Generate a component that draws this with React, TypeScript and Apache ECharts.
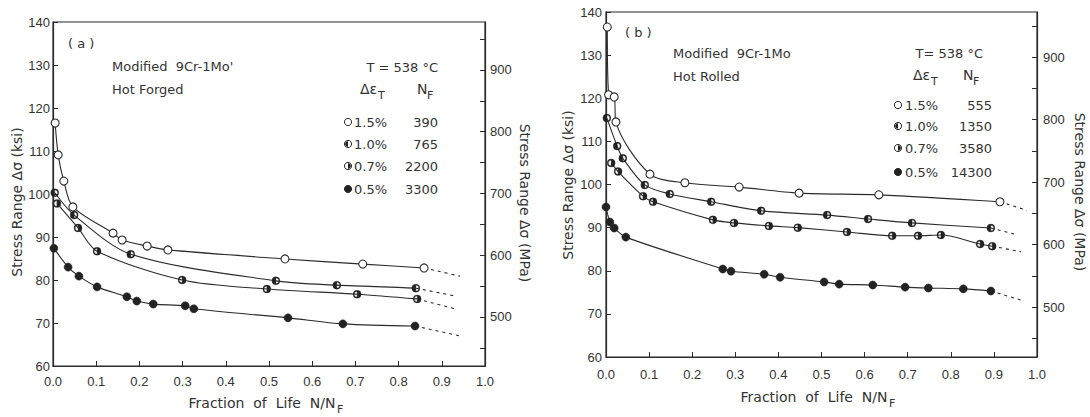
import { useEffect, useRef } from "react";
import * as echarts from "echarts";

// ---------- axes ----------
const X_MIN = 0;
const X_MAX = 1;
const X_STEP = 0.1;
const KSI_MIN = 60;
const KSI_MAX = 140;
const KSI_STEP = 10;
const MPA_TICKS = [450, 500, 550, 600, 650, 700, 750, 800, 850, 900, 950];
const MPA_LABELS = [500, 600, 700, 800, 900];
const MPA_RANGE_A = [420.6, 977.7];
const MPA_RANGE_B = [420, 972];

// ---------- legend tables ----------
const STRAINS = ["1.5%", "1.0%", "0.7%", "0.5%"];
const NF_A = [390, 765, 2200, 3300];
const NF_B = [555, 1350, 3580, 14300];

// ---------- panel (a): hot forged, [N/NF, ksi] ----------
const a15 = [[0.005, 116.5], [0.012, 109.1], [0.025, 103.0], [0.046, 97.0], [0.139, 90.9], [0.16, 89.3], [0.218, 87.9], [0.266, 87.0], [0.537, 84.9], [0.717, 83.7], [0.859, 82.8]];
const a15Ext = [[0.859, 82.8], [0.942, 80.9]];
const a10 = [[0.004, 100.3], [0.049, 95.1], [0.18, 86.0], [0.516, 79.8], [0.657, 78.8], [0.84, 78.1]];
const a10Ext = [[0.84, 78.1], [0.93, 76.3]];
const a07 = [[0.009, 97.8], [0.058, 92.1], [0.102, 86.7], [0.299, 80.0], [0.495, 77.9], [0.704, 76.7], [0.843, 75.6]];
const a07Ext = [[0.843, 75.6], [0.93, 73.3]];
const a05 = [[0.002, 87.4], [0.035, 83.0], [0.06, 80.9], [0.102, 78.4], [0.171, 76.1], [0.194, 75.1], [0.232, 74.4], [0.306, 74.0], [0.326, 73.3], [0.544, 71.2], [0.671, 69.8], [0.838, 69.3]];
const a05Ext = [[0.838, 69.3], [0.942, 67.0]];

// ---------- panel (b): hot rolled ----------
const b15 = [[0.003, 136.5], [0.006, 120.8], [0.019, 120.3], [0.023, 114.5], [0.102, 102.4], [0.183, 100.4], [0.309, 99.4], [0.448, 98.0], [0.633, 97.6], [0.914, 96.0]];
const b15Ext = [[0.914, 96.0], [0.977, 94.0]];
const b10 = [[0.002, 115.4], [0.026, 108.9], [0.039, 106.1], [0.09, 99.9], [0.148, 97.8], [0.244, 96.0], [0.36, 93.9], [0.513, 92.9], [0.608, 92.0], [0.71, 91.1], [0.893, 89.9]];
const b10Ext = [[0.893, 89.9], [0.956, 88.3]];
const b07 = [[0.012, 105.0], [0.028, 103.0], [0.086, 97.3], [0.109, 96.0], [0.248, 91.8], [0.297, 91.1], [0.378, 90.4], [0.445, 90.0], [0.559, 89.0], [0.664, 88.1], [0.724, 88.1], [0.777, 88.3], [0.868, 86.2], [0.896, 85.7]];
const b07Ext = [[0.896, 85.7], [0.963, 84.4]];
const b05 = [[0.0, 94.8], [0.009, 91.3], [0.019, 89.9], [0.046, 87.8], [0.271, 80.4], [0.29, 79.9], [0.367, 79.2], [0.404, 78.5], [0.506, 77.4], [0.541, 76.9], [0.619, 76.7], [0.694, 76.2], [0.748, 76.0], [0.829, 75.8], [0.893, 75.3]];
const b05Ext = [[0.893, 75.3], [0.963, 73.2]];

const INK = "#2b2b2b";
const TXT = "#333";
const NUM_FONT = "'Liberation Sans', Arial, sans-serif";
const FONT = "'DejaVu Sans', 'Liberation Sans', sans-serif";

const RING = "M10,0A10,10 0 1,1 10,20A10,10 0 1,1 10,0Z M10,3A7,7 0 1,0 10,17A7,7 0 1,0 10,3Z";
const HALF_L = "path://" + RING + " M10,3A7,7 0 0,0 10,17Z";
const HALF_R = "path://" + RING + " M10,3A7,7 0 0,1 10,17Z";

type Kind = "open" | "left" | "right" | "solid";
const KINDS: Kind[] = ["open", "left", "right", "solid"];

function symbolOf(k: Kind) {
  if (k === "left") return HALF_L;
  if (k === "right") return HALF_R;
  return "circle";
}
function itemStyleOf(k: Kind) {
  if (k === "open") return { color: "#fff", borderColor: INK, borderWidth: 1.1 };
  if (k === "solid") return { color: "#222", borderColor: "#222", borderWidth: 0.6 };
  return { color: "#222", borderColor: "#222", borderWidth: 0.3 };
}

function curve(name: string, data: number[][], ext: number[][], k: Kind, gi: number) {
  return [
    {
      name,
      type: "line",
      xAxisIndex: gi,
      yAxisIndex: gi * 2,
      data,
      smooth: 0.3,
      symbol: symbolOf(k),
      symbolSize: 8,
      itemStyle: itemStyleOf(k),
      lineStyle: { color: INK, width: 1.1 },
      z: 3,
    },
    {
      name: name + " ext",
      type: "line",
      xAxisIndex: gi,
      yAxisIndex: gi * 2,
      data: ext,
      symbol: "none",
      lineStyle: { color: INK, width: 1.1, type: [3, 4] },
      z: 2,
    },
  ];
}

function xAxisOf(gi: number, margin: number) {
  return {
    type: "value",
    gridIndex: gi,
    min: X_MIN,
    max: X_MAX,
    interval: X_STEP,
    axisLine: { show: true, onZero: false, lineStyle: { color: INK, width: 1.2 } },
    axisTick: { show: true, inside: true, length: 5, lineStyle: { color: INK } },
    axisLabel: { color: TXT, fontSize: 13, fontFamily: NUM_FONT, margin, formatter: (v: number) => v.toFixed(1) },
    splitLine: { show: false },
  };
}
function ksiAxis(gi: number, margin: number) {
  return {
    type: "value",
    gridIndex: gi,
    position: "left",
    min: KSI_MIN,
    max: KSI_MAX,
    interval: KSI_STEP,
    axisLine: { show: true, onZero: false, lineStyle: { color: INK, width: 1.2 } },
    axisTick: { show: true, inside: true, length: 5, lineStyle: { color: INK } },
    axisLabel: { color: TXT, fontSize: 13, fontFamily: NUM_FONT, margin },
    splitLine: { show: false },
  };
}
function mpaAxis(gi: number, range: number[], margin: number) {
  return {
    type: "value",
    gridIndex: gi,
    position: "right",
    min: range[0],
    max: range[1],
    axisLine: { show: true, onZero: false, lineStyle: { color: INK, width: 1.2 } },
    axisTick: { show: true, inside: true, length: 5, lineStyle: { color: INK }, customValues: MPA_TICKS },
    axisLabel: { color: TXT, fontSize: 13, fontFamily: NUM_FONT, margin, customValues: MPA_LABELS },
    splitLine: { show: false },
  };
}

function txt(text: string, x: number, y: number, size: number, align = "left", rotation = 0) {
  return {
    type: "text",
    x,
    y,
    rotation,
    style: { text, fill: TXT, font: `${size}px ${FONT}`, align, verticalAlign: "middle" },
  };
}

function marker(k: Kind, cx: number, cy: number) {
  const els: any[] = [
    {
      type: "circle",
      shape: { cx, cy, r: 3.6 },
      style: { fill: k === "solid" ? "#222" : "#fff", stroke: INK, lineWidth: 1 },
    },
  ];
  if (k === "left" || k === "right") {
    els.push({
      type: "sector",
      shape: {
        cx,
        cy,
        r: 2.8,
        r0: 0,
        startAngle: k === "left" ? Math.PI / 2 : -Math.PI / 2,
        endAngle: k === "left" ? (3 * Math.PI) / 2 : Math.PI / 2,
      },
      style: { fill: "#222" },
    });
  }
  return els;
}

function legendBlock(nf: number[], mx: number, tx: number, vx: number, rows: number[]) {
  const els: any[] = [];
  STRAINS.forEach((s, i) => {
    els.push(...marker(KINDS[i], mx, rows[i]));
    els.push(txt(s, tx, rows[i], 13));
    els.push(txt(String(nf[i]), vx, rows[i], 13, "right"));
  });
  return els;
}

function panelText(
  tag: string, tagX: number, tagY: number,
  title: string[], titleX: number, titleY: number[],
  temp: string, tempX: number, tempY: number,
  dX: number, nX: number, hdrY: number
) {
  return [
    txt(tag, tagX, tagY, 13),
    txt(title[0], titleX, titleY[0], 13),
    txt(title[1], titleX, titleY[1], 13),
    txt(temp, tempX, tempY, 13, "right"),
    txt("Δε", dX, hdrY, 14),
    txt("T", dX + 18, hdrY + 6, 11),
    txt("N", nX, hdrY, 14),
    txt("F", nX + 10, hdrY + 6, 11),
  ];
}

export default function App() {
  const ref = useRef<HTMLDivElement>(null);
  useEffect(() => {
    if (!ref.current) return;
    const chart = echarts.init(ref.current, undefined, { renderer: "svg" });
    const series = [
      ...curve("a 1.5%", a15, a15Ext, "open", 0),
      ...curve("a 1.0%", a10, a10Ext, "left", 0),
      ...curve("a 0.7%", a07, a07Ext, "right", 0),
      ...curve("a 0.5%", a05, a05Ext, "solid", 0),
      ...curve("b 1.5%", b15, b15Ext, "open", 1),
      ...curve("b 1.0%", b10, b10Ext, "left", 1),
      ...curve("b 0.7%", b07, b07Ext, "right", 1),
      ...curve("b 0.5%", b05, b05Ext, "solid", 1),
    ];
    const graphic: any[] = [
      ...panelText("( a )", 68, 43, ["Modified  9Cr-1Mo'", "Hot Forged"], 112, [66, 89], "T = 538 °C", 438, 67, 360, 417, 89),
      ...legendBlock(NF_A, 348, 354, 438, [122, 144, 166, 189]),
      ...panelText("( b )", 625, 32, ["Modified  9Cr-1Mo", "Hot Rolled"], 673, [53, 76], "T= 538 °C", 983, 53, 913, 963, 75),
      ...legendBlock(NF_B, 898, 905, 992, [105, 126, 148, 172]),
      txt("Stress Range Δσ (ksi)", 17, 202, 14, "center", Math.PI / 2),
      txt("Stress Range Δσ (MPa)", 525, 203, 14, "center", -Math.PI / 2),
      txt("Fraction  of  Life  N/N", 262, 403, 14, "center"),
      txt("F", 337, 409, 11),
      txt("Stress Range Δσ (ksi)", 568, 185, 14, "center", Math.PI / 2),
      txt("Stress Range Δσ (MPa)", 1080, 192, 14, "center", -Math.PI / 2),
      txt("Fraction  of  Life  N/N", 814, 397, 14, "center"),
      txt("F", 889, 403, 11),
    ];
    chart.setOption({
      animation: false,
      backgroundColor: "#fff",
      grid: [
        { left: 53, top: 22, width: 432, height: 344, show: true, borderColor: INK, borderWidth: 1.2 },
        { left: 606, top: 12, width: 431, height: 345, show: true, borderColor: INK, borderWidth: 1.2 },
      ],
      xAxis: [xAxisOf(0, 9), xAxisOf(1, 11)],
      yAxis: [ksiAxis(0, 3), mpaAxis(0, MPA_RANGE_A, 5), ksiAxis(1, 4), mpaAxis(1, MPA_RANGE_B, 6)],
      series,
      graphic,
    });
    return () => chart.dispose();
  }, []);
  return <div ref={ref} style={{ position: "fixed", left: 0, top: 0, width: 1090, height: 417, background: "#fff" }} />;
}
